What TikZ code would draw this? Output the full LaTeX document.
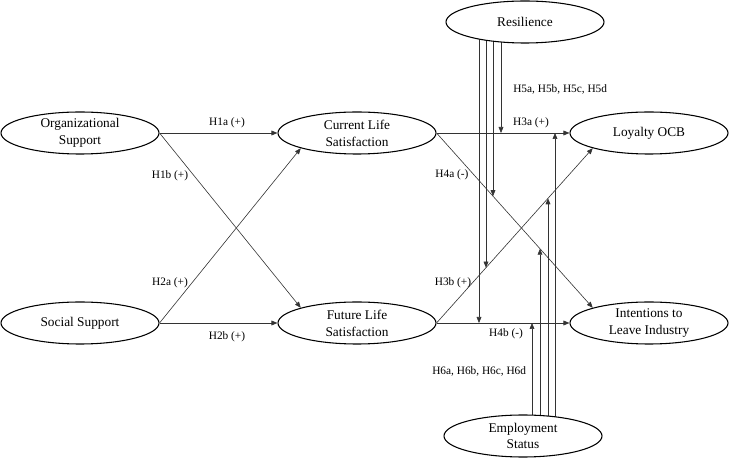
\documentclass[tikz,border=0pt]{standalone}
\usepackage{fontspec}
\setmainfont{Liberation Serif}
\usetikzlibrary{shapes.geometric,arrows.meta,intersections,backgrounds}

\begin{document}
\begin{tikzpicture}[x=0.75pt,y=-0.75pt,
        construct/.style={ellipse,draw,line width=0.8pt,fill=white,
            minimum width=118.5pt,minimum height=31.5pt,inner sep=0pt,
            align=center,font=\fontsize{10}{12.6}\selectfont},
        link/.style={draw=black!80,line width=0.45pt,
            -{Triangle[length=4.5pt,width=3.6pt]}},
        hyp/.style={inner sep=0pt,font=\fontsize{8.5}{10}\selectfont}]
                \useasboundingbox (0,0) rectangle (729,459);

                \node[construct] (org) at (80,133) {Organizational\\Support};
                \node[construct] (soc) at (80,323) {Social Support};
                \node[construct] (cls) at (357,133) {Current Life\\Satisfaction};
                \node[construct] (fls) at (357,323) {Future Life\\Satisfaction};
                \node[construct] (loy) at (649,133) {Loyalty OCB};
                \node[construct] (int) at (649,323) {Intentions to\\Leave Industry};
                \node[construct] (res) at (525,22) {Resilience};
                \node[construct] (emp) at (523,436) {Employment\\Status};

                \draw[link] (org.east) -- (cls.west);
                \draw[link] (org.east) -- (fls.north west);
                \draw[link] (soc.east) -- (cls.south west);
                \draw[link] (soc.east) -- (fls.west);

                \draw[link,name path=h3a] (cls.east) -- (loy.west);
                \draw[link,name path=h4a] (cls.east) -- (int.north west);
                \draw[link,name path=h3b] (fls.east) -- (loy.south west);
                \draw[link,name path=h4b] (fls.east) -- (int.west);

                % moderators
                \path[name path=rv1] (479,0) -- (479,459);
                \path[name path=rv2] (486,0) -- (486,459);
                \path[name path=rv3] (493,0) -- (493,459);
                \path[name path=rv4] (501,0) -- (501,459);
                \path[name path=ev1] (532,0) -- (532,459);
                \path[name path=ev2] (540,0) -- (540,459);
                \path[name path=ev3] (548,0) -- (548,459);
                \path[name path=ev4] (555,0) -- (555,459);
                \path[name intersections={of=rv1 and h4b,by=re1}];
                \path[name intersections={of=rv2 and h3b,by=re2}];
                \path[name intersections={of=rv3 and h4a,by=re3}];
                \path[name intersections={of=rv4 and h3a,by=re4}];
                \path[name intersections={of=ev1 and h4b,by=ee1}];
                \path[name intersections={of=ev2 and h4a,by=ee2}];
                \path[name intersections={of=ev3 and h3b,by=ee3}];
                \path[name intersections={of=ev4 and h3a,by=ee4}];
                \begin{scope}[on background layer]
                    \foreach \i in {1,...,4} {
                        \draw[link] (res.center -| re\i) -- (re\i);
                        \draw[link] (emp.center -| ee\i) -- (ee\i);
                    }
                \end{scope}

                \node[hyp] (h1a) at (227,123) {H1a (+)};
                \node[hyp] (h1b) at (170,176) {H1b (+)};
                \node[hyp] (h2a) at (170,283) {H2a (+)};
                \node[hyp] (h2b) at (227,337) {H2b (+)};
                \node[hyp] (h3a) at (531,123) {H3a (+)};
                \node[hyp] (h4a) at (452,175) {H4a (-)};
                \node[hyp] (h3b) at (453,283) {H3b (+)};
                \node[hyp] (h4b) at (506,334) {H4b (-)};
                \node[hyp,anchor=west] (h5) at (513,89) {H5a, H5b, H5c, H5d};
                \node[hyp,anchor=west] (h6) at (432,371) {H6a, H6b, H6c, H6d};
            \end{tikzpicture}
\end{document}
